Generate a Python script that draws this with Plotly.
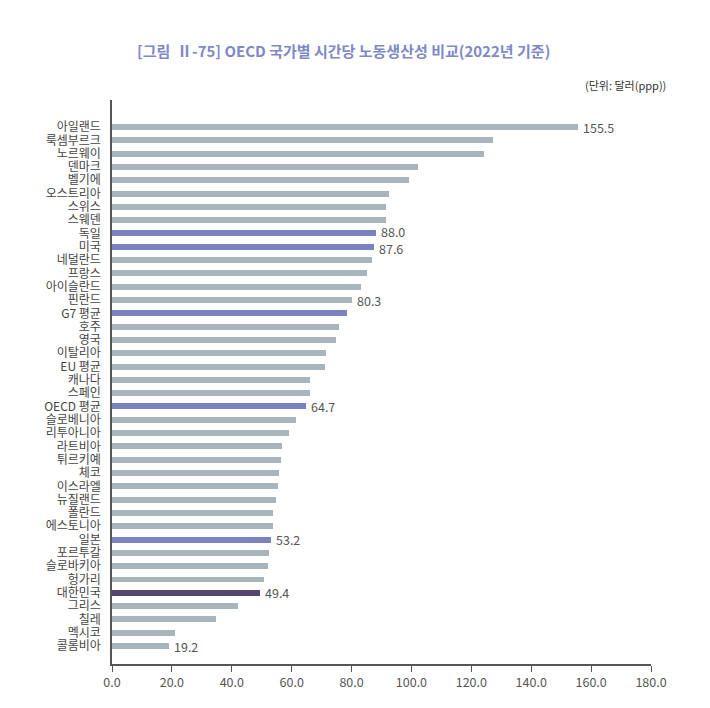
import plotly.graph_objects as go

# 국가별 시간당 노동생산성 (2022년, 달러 ppp)
countries = [
    '아일랜드', '룩셈부르크', '노르웨이', '덴마크', '벨기에', '오스트리아', '스위스', '스웨덴',
    '독일', '미국', '네덜란드', '프랑스', '아이슬란드', '핀란드', 'G7 평균', '호주', '영국',
    '이탈리아', 'EU 평균', '캐나다', '스페인', 'OECD 평균', '슬로베니아', '리투아니아',
    '라트비아', '튀르키예', '체코', '이스라엘', '뉴질랜드', '폴란드', '에스토니아', '일본',
    '포르투갈', '슬로바키아', '헝가리', '대한민국', '그리스', '칠레', '멕시코', '콜롬비아',
]
values = [
    155.5, 127.1, 124.2, 102.3, 99.3, 92.4, 91.5, 91.5,
    88.0, 87.6, 86.9, 85.2, 83.3, 80.3, 78.5, 75.7, 74.9,
    71.6, 71.1, 66.1, 66.1, 64.7, 61.3, 59.1,
    56.9, 56.3, 55.9, 55.4, 54.7, 53.9, 53.9, 53.2,
    52.5, 52.2, 50.8, 49.4, 42.0, 34.6, 21.1, 19.2,
]
labeled = ['아일랜드', '독일', '미국', '핀란드', 'OECD 평균', '일본', '대한민국', '콜롬비아']
highlight = ['독일', '미국', 'G7 평균', 'OECD 평균', '일본']
x_ticks = [0, 20, 40, 60, 80, 100, 120, 140, 160, 180]

GRAY = '#a9b5bd'
BLUE = '#7a83c2'
KOREA = '#56466f'
FONT = 'Noto Sans CJK KR'

colors = []
for c in countries:
    if c == '대한민국':
        colors.append(KOREA)
    elif c in highlight:
        colors.append(BLUE)
    else:
        colors.append(GRAY)

fig = go.Figure()
fig.add_trace(go.Bar(
    x=values, y=countries, orientation='h',
    marker=dict(color=colors, line=dict(width=0)),
    width=0.45, hoverinfo='x+y'))

# value labels next to selected bars (독일/미국 nudged apart a little)
nudge = {'독일': 2, '미국': -2}
notes = []
for c, v in zip(countries, values):
    if c in labeled:
        notes.append(dict(
            x=v, y=c, xref='x', yref='y', text='{:.1f}'.format(v),
            xanchor='left', yanchor='middle', xshift=3,
            yshift=nudge.get(c, 0), showarrow=False,
            font=dict(family=FONT, size=12.5, color='#555555')))

fig.update_xaxes(
    range=[0, 180], tickvals=x_ticks,
    ticktext=['{:.1f}'.format(t) for t in x_ticks],
    showgrid=False, zeroline=False,
    showline=True, linecolor='#555555', linewidth=1.5,
    ticks='outside', ticklen=6, tickcolor='#555555', tickwidth=1.2,
    tickfont=dict(family=FONT, size=12.5, color='#555555'))
fig.update_yaxes(
    type='category', range=[40.35, -2.03],
    tickmode='array', tickvals=countries, ticktext=countries,
    showgrid=False, zeroline=False,
    showline=True, linecolor='#555555', linewidth=1.5,
    ticks='', ticklabelstandoff=7,
    tickfont=dict(family=FONT, size=12, color='#444444'))

notes.append(dict(
    text='<b>[그림  Ⅱ-75] OECD 국가별 시간당 노동생산성 비교(2022년 기준)</b>',
    xref='paper', yref='paper', x=0.43, y=1.0, yshift=50,
    xanchor='center', yanchor='middle', showarrow=False,
    font=dict(family=FONT, size=15, color='#8088c8')))
notes.append(dict(
    text='(단위: 달러(ppp))',
    xref='paper', yref='paper', x=1.0, y=1.0, xshift=17, yshift=15,
    xanchor='right', yanchor='middle', showarrow=False,
    font=dict(family=FONT, size=11, color='#333333')))

fig.update_layout(
    width=702, height=700,
    margin={'l': 104, 'r': 59, 't': 92, 'b': 44},
    paper_bgcolor='white', plot_bgcolor='white',
    showlegend=False, bargap=0,
    font=dict(family=FONT),
    annotations=notes)

fig.write_html('out.html')
